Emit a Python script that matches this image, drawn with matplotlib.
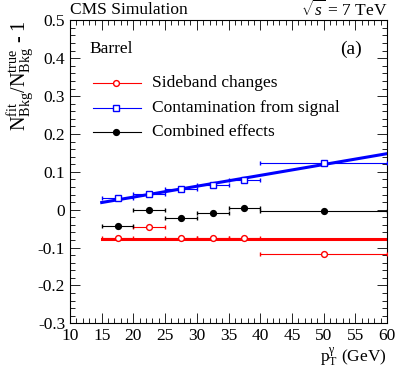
import numpy as np
import matplotlib
matplotlib.use("Agg")
import matplotlib.pyplot as plt
from matplotlib.ticker import MultipleLocator

plt.rcParams['font.family'] = 'Liberation Serif'
plt.rcParams['mathtext.fontset'] = 'custom'
plt.rcParams['mathtext.rm'] = 'Liberation Serif'
plt.rcParams['mathtext.it'] = 'Liberation Serif:italic'

# pT bins
bin_lo = [15, 20, 25, 30, 35, 40]
bin_hi = [20, 25, 30, 35, 40, 60]
bin_x = [17.5, 22.5, 27.5, 32.5, 37.5, 50]

# values
sideband = [-0.074, -0.045, -0.075, -0.074, -0.074, -0.117]
contamination = [0.030, 0.041, 0.054, 0.066, 0.079, 0.123]
combined = [-0.044, -0.001, -0.021, -0.008, 0.004, -0.003]

# fit lines (value at 15 and 60 GeV)
fit_x = [15, 60]
sideband_fit = [-0.077, -0.077]
contamination_fit = [0.019, 0.148]

xerr_lo = np.array(bin_x) - np.array(bin_lo)
xerr_hi = np.array(bin_hi) - np.array(bin_x)
xerr = [xerr_lo, xerr_hi]

fig = plt.figure(figsize=(4.07, 3.91), dpi=100)
ax = fig.add_axes([0.172, 0.173, 0.779, 0.775])

ax.plot(fit_x, sideband_fit, color='red', lw=2.2, zorder=2)
ax.plot(fit_x, contamination_fit, color='blue', lw=2.2, zorder=2)

ax.errorbar(bin_x, sideband, xerr=xerr, fmt='o', color='red', mfc='white', mec='red',
            ms=4.2, lw=0.8, capsize=1.5, elinewidth=0.8, zorder=3)
ax.errorbar(bin_x, contamination, xerr=xerr, fmt='s', color='blue', mfc='white', mec='blue',
            ms=4, lw=0.8, capsize=1.5, elinewidth=0.8, zorder=3)
ax.errorbar(bin_x, combined, xerr=xerr, fmt='o', color='black', mfc='black', mec='black',
            ms=4.2, lw=0.8, capsize=1.5, elinewidth=0.8, zorder=3)

# legend drawn by hand in axes coordinates
leg = [("Sideband changes", 'red', 'o', 'white', 4.2),
       ("Contamination from signal", 'blue', 's', 'white', 4),
       ("Combined effects", 'black', 'o', 'black', 4.2)]
for i, (lab, c, m, fc, ms) in enumerate(leg):
    yy = 0.792 - i * 0.08
    ax.plot([0.072, 0.225], [yy, yy], color=c, lw=0.8, transform=ax.transAxes)
    ax.plot([0.145], [yy], marker=m, color=c, mfc=fc, mec=c, ms=ms, transform=ax.transAxes)
    ax.text(0.258, yy, lab, transform=ax.transAxes, fontsize=12.5, va='center')

ax.text(0.06, 0.905, "Barrel", transform=ax.transAxes, fontsize=12.5, va='center')
ax.text(0.921, 0.905, "(a)", transform=ax.transAxes, fontsize=14, va='center', ha='right')

ax.set_xlim(10, 60)
ax.set_ylim(-0.3, 0.5)
ax.xaxis.set_major_locator(MultipleLocator(5))
ax.xaxis.set_minor_locator(MultipleLocator(1))
ax.yaxis.set_minor_locator(MultipleLocator(0.02))
yt = np.round(np.arange(-0.3, 0.51, 0.1), 1)
ax.set_yticks(yt)
ax.set_yticklabels(['%g' % v for v in yt])
ax.tick_params(which='both', direction='in', top=True, right=True, labelsize=12.5)
ax.tick_params(which='major', length=7, width=0.6)
ax.tick_params(which='minor', length=3.5, width=0.6)
for s in ax.spines.values():
    s.set_linewidth(0.8)

ax.set_xlabel(r"$\mathrm{p_{T}^{\gamma}}$ (GeV)", fontsize=12.5, loc='right', labelpad=1)
ax.set_ylabel(r"$\mathrm{N^{fit}_{Bkg}/N^{true}_{Bkg}}$ - 1", fontsize=14.5, loc='top', labelpad=2)

fig.text(0.172, 0.975, "CMS Simulation", fontsize=12.5, va='center', ha='left')
fig.text(0.951, 0.975, r"$\sqrt{s}$ = 7 TeV", fontsize=12.5, va='center', ha='right')

fig.savefig("out.png", dpi=100)
